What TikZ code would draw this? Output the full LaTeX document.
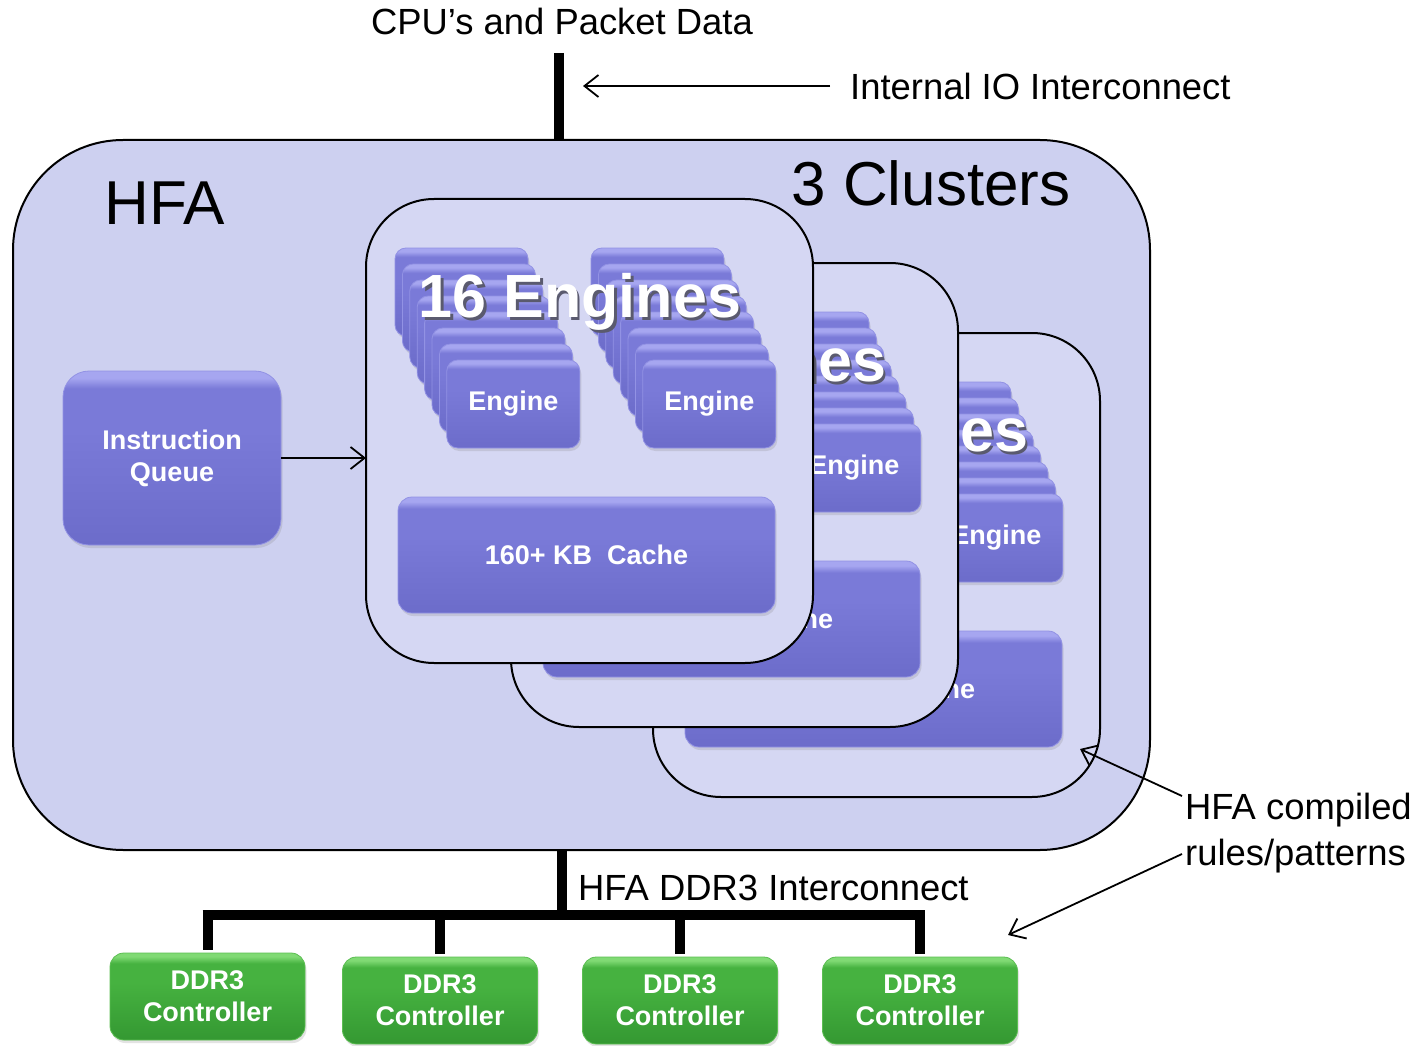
\documentclass[tikz,border=0pt]{standalone}
\usepackage{fontspec}
\setmainfont{Liberation Sans}
\usetikzlibrary{arrows.meta,shadows}

\definecolor{hfafill}{RGB}{205,208,240}
\definecolor{clfill}{RGB}{213,215,243}
\definecolor{engtop}{RGB}{166,166,240}
\definecolor{engmid}{RGB}{122,122,216}
\definecolor{engbot}{RGB}{108,108,202}
\definecolor{engline}{RGB}{146,146,228}
\definecolor{grtop}{RGB}{128,218,116}
\definecolor{grmid}{RGB}{70,178,64}
\definecolor{grbot}{RGB}{52,152,50}
\definecolor{grline}{RGB}{92,190,82}
\definecolor{titleshade}{RGB}{90,90,110}

% glassy vertical shadings: flat body with a light rim along the top edge
\pgfdeclareverticalshading{bluegl}{100bp}{color(0bp)=(engbot); color(25bp)=(engbot);
  color(58bp)=(engmid); color(70bp)=(engmid); color(73bp)=(engtop); color(100bp)=(engtop)}
\pgfdeclareverticalshading{greengl}{100bp}{color(0bp)=(grbot); color(25bp)=(grbot);
  color(58bp)=(grmid); color(69bp)=(grmid); color(73bp)=(grtop); color(100bp)=(grtop)}

\tikzset{
  px/.style={x=1pt,y=-1pt},
  hfabox/.style={draw=black, line width=2pt, fill=hfafill, rounded corners=110pt,
    inner sep=0pt, outer sep=0pt, minimum width=1137pt, minimum height=710pt},
  clusterbox/.style={draw=black, line width=2pt, fill=clfill, rounded corners=68pt,
    inner sep=0pt, outer sep=0pt, minimum width=447pt, minimum height=464pt},
  glass/.style={rounded corners=#1, draw=engline, line width=0.8pt, shading=bluegl,
    inner sep=0pt, outer sep=0pt,
    drop shadow={shadow xshift=1.5pt, shadow yshift=-3pt, opacity=0.22}},
  enginecard/.style={glass=11pt, minimum width=133pt, minimum height=88pt, anchor=north west},
  whitebold/.style={text=white, font=\bfseries\fontsize{27}{32}\selectfont, align=center},
  greenbox/.style={rounded corners=14pt, draw=grline, line width=0.8pt, shading=greengl,
    inner sep=0pt, outer sep=0pt, minimum width=195pt, minimum height=87pt,
    drop shadow={shadow xshift=1.5pt, shadow yshift=-3pt, opacity=0.22},
    text=white, font=\bfseries\fontsize{27}{32}\selectfont, align=center},
  lbl/.style={inner sep=0pt, font=\fontsize{36.4}{46}\selectfont},
  biglbl/.style={inner sep=0pt, font=\fontsize{62}{70}\selectfont},
  titlefont/.style={inner sep=0pt, font=\bfseries\fontsize{61}{70}\selectfont},
  bus/.style={line width=10pt, line cap=butt},
  pointer/.style={line width=1.8pt, -{Straight Barb[length=14pt, width=22pt]}},
}

% white title with a soft dark offset copy behind it
\newcommand\shadowtitle[1]{%
  \rlap{\raisebox{-3pt}[0pt][0pt]{\kern2.5pt\textcolor{titleshade}{#1}}}#1}

\begin{document}
\begin{tikzpicture}[px]
\useasboundingbox (0,0) rectangle (1428,1046);
\fill[white] (0,0) rectangle (1428,1046);

% outer HFA block
\node[hfabox] (hfa) at (581.5,495) {};
\node[biglbl, anchor=base] (hfalbl) at (165,224) {HFA};
\node[biglbl, anchor=base] (clusters) at (931,205) {3 Clusters};

% three clusters, drawn back to front
\foreach \cn/\ox/\oy in {3/287/134, 2/145/64, 1/0/0} {
  \begin{scope}[shift={(\ox,\oy)}]
    \node[clusterbox] (c\cn) at (589.5,431) {};
    \foreach \s/\sx in {L/395, R/591} {
      \foreach \i in {0,...,7} {
        \node[enginecard] (k\cn\s\i) at ({\sx+7.4*\i},{248+16*\i}) {};
      }
      \node[whitebold] (e\cn\s) at (k\cn\s7.center) {Engine};
    }
    \node[titlefont, text=white, anchor=base] (tt\cn) at (580,317) {\shadowtitle{16 Engines}};
    \node[glass=14pt, minimum width=377pt, minimum height=116pt, whitebold] (cache\cn)
      at (586.5,555) {160+ KB\ \ Cache};
  \end{scope}
}

% instruction queue feeding the front cluster
\node[glass=26pt, minimum width=218pt, minimum height=174pt, whitebold] (iq)
  at (172,458) {Instruction\\Queue};
\draw[pointer] (iq.east) -- (iq.east -| c1.west);

% internal IO interconnect
\coordinate (tbus) at (559,53);
\draw[bus] (tbus) -- (tbus |- hfa.north);
\node[lbl, anchor=base] (cpu) at (562,35) {CPU's and Packet Data};
\node[lbl, anchor=base west] (io) at (850,100) {Internal IO Interconnect};
\coordinate (iotip) at (583,86);
\draw[pointer] ([xshift=-20pt]io.west |- iotip) -- (iotip);

% DDR3 controllers and their interconnect
\node[greenbox] (ddr1) at (207.5,996.5) {DDR3\\Controller};
\node[greenbox] (ddr2) at (440,1000.5) {DDR3\\Controller};
\node[greenbox] (ddr3) at (680,1000.5) {DDR3\\Controller};
\node[greenbox] (ddr4) at (920,1000.5) {DDR3\\Controller};
\coordinate (dbus) at (562,915);
\draw[bus] (dbus |- hfa.south) -- (dbus);
\draw[bus] ([xshift=-5pt]ddr1.north |- dbus) -- ([xshift=5pt]ddr4.north |- dbus);
\foreach \d in {1,2,3,4} {
  \draw[bus] (ddr\d.north |- dbus) -- ([yshift=3pt]ddr\d.north);
}
\node[lbl, anchor=base west] (ddrlbl) at (578,900) {HFA DDR3 Interconnect};

% compiled rules label
\node[lbl, anchor=north west, align=left] (rules) at (1185,793) {HFA compiled\\rules/patterns};
\coordinate (ruleA) at (1182,796);
\coordinate (ruleB) at (1182,854);
\coordinate (tipA) at (1080,749);
\coordinate (tipB) at (1008,935);
\draw[pointer] (ruleA) -- (tipA);
\draw[pointer] (ruleB) -- (tipB);
\end{tikzpicture}
\end{document}
